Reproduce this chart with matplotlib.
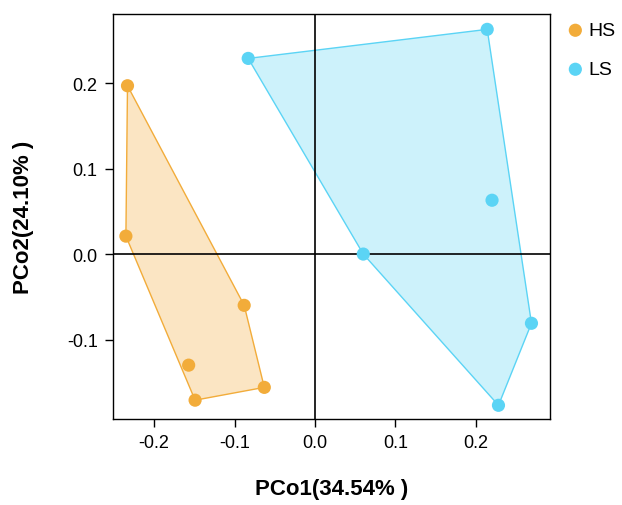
import matplotlib
matplotlib.use("Agg")
import matplotlib.pyplot as plt
import numpy as np

plt.rcParams["font.family"] = ["Liberation Sans", "DejaVu Sans"]
plt.rcParams["axes.unicode_minus"] = False

groups = ["HS", "LS"]
colors = {"HS": "#F2AC3A", "LS": "#5BD4F5"}

hs_x = [-0.233, -0.235, -0.088, -0.157, -0.149, -0.063]
hs_y = [0.197, 0.021, -0.060, -0.130, -0.171, -0.156]
ls_x = [-0.083, 0.214, 0.220, 0.060, 0.269, 0.228]
ls_y = [0.229, 0.263, 0.063, 0.000, -0.081, -0.177]

xlabel = "PCo1(34.54% )"
ylabel = "PCo2(24.10% )"


def hull(xs, ys):
    pts = sorted(zip(xs, ys))

    def cross(o, a, b):
        return (a[0] - o[0]) * (b[1] - o[1]) - (a[1] - o[1]) * (b[0] - o[0])

    lower, upper = [], []
    for p in pts:
        while len(lower) >= 2 and cross(lower[-2], lower[-1], p) <= 0:
            lower.pop()
        lower.append(p)
    for p in reversed(pts):
        while len(upper) >= 2 and cross(upper[-2], upper[-1], p) <= 0:
            upper.pop()
        upper.append(p)
    return np.array(lower[:-1] + upper[:-1])


fig = plt.figure(figsize=(6.22, 5.06), dpi=100)
ax = fig.add_axes([0.1817, 0.170, 0.7025, 0.8004])

data = {"HS": (hs_x, hs_y), "LS": (ls_x, ls_y)}
for g in groups:
    xs, ys = data[g]
    h = hull(xs, ys)
    ax.fill(h[:, 0], h[:, 1], facecolor=colors[g], alpha=0.3, edgecolor="none", zorder=1)
    ax.fill(h[:, 0], h[:, 1], facecolor="none", edgecolor=colors[g], lw=1.0, zorder=2)
    ax.scatter(xs, ys, s=90, color=colors[g], edgecolors="none", zorder=3, label=g)

ax.axvline(0, color="black", lw=1.2, zorder=2.5)
ax.axhline(0, color="black", lw=1.2, zorder=2.5)

ax.set_xlim(-0.251, 0.292)
ax.set_ylim(-0.193, 0.281)
ax.set_xticks([-0.2, -0.1, 0.0, 0.1, 0.2])
ax.set_yticks([-0.1, 0.0, 0.1, 0.2])
ax.tick_params(labelsize=13, length=6, width=1.0, colors="black", pad=5)
for s in ax.spines.values():
    s.set_linewidth(1.0)
ax.set_xlabel(xlabel, fontsize=16, fontweight="bold", labelpad=19)
ax.set_ylabel(ylabel, fontsize=16, fontweight="bold", labelpad=24)

ax.legend(loc="upper left", bbox_to_anchor=(1.018, 1.0), frameon=False, fontsize=14,
          handlelength=1.0, handletextpad=0.15, labelspacing=1.1, borderaxespad=0,
          borderpad=0.4)

fig.savefig("out.png", dpi=100)
